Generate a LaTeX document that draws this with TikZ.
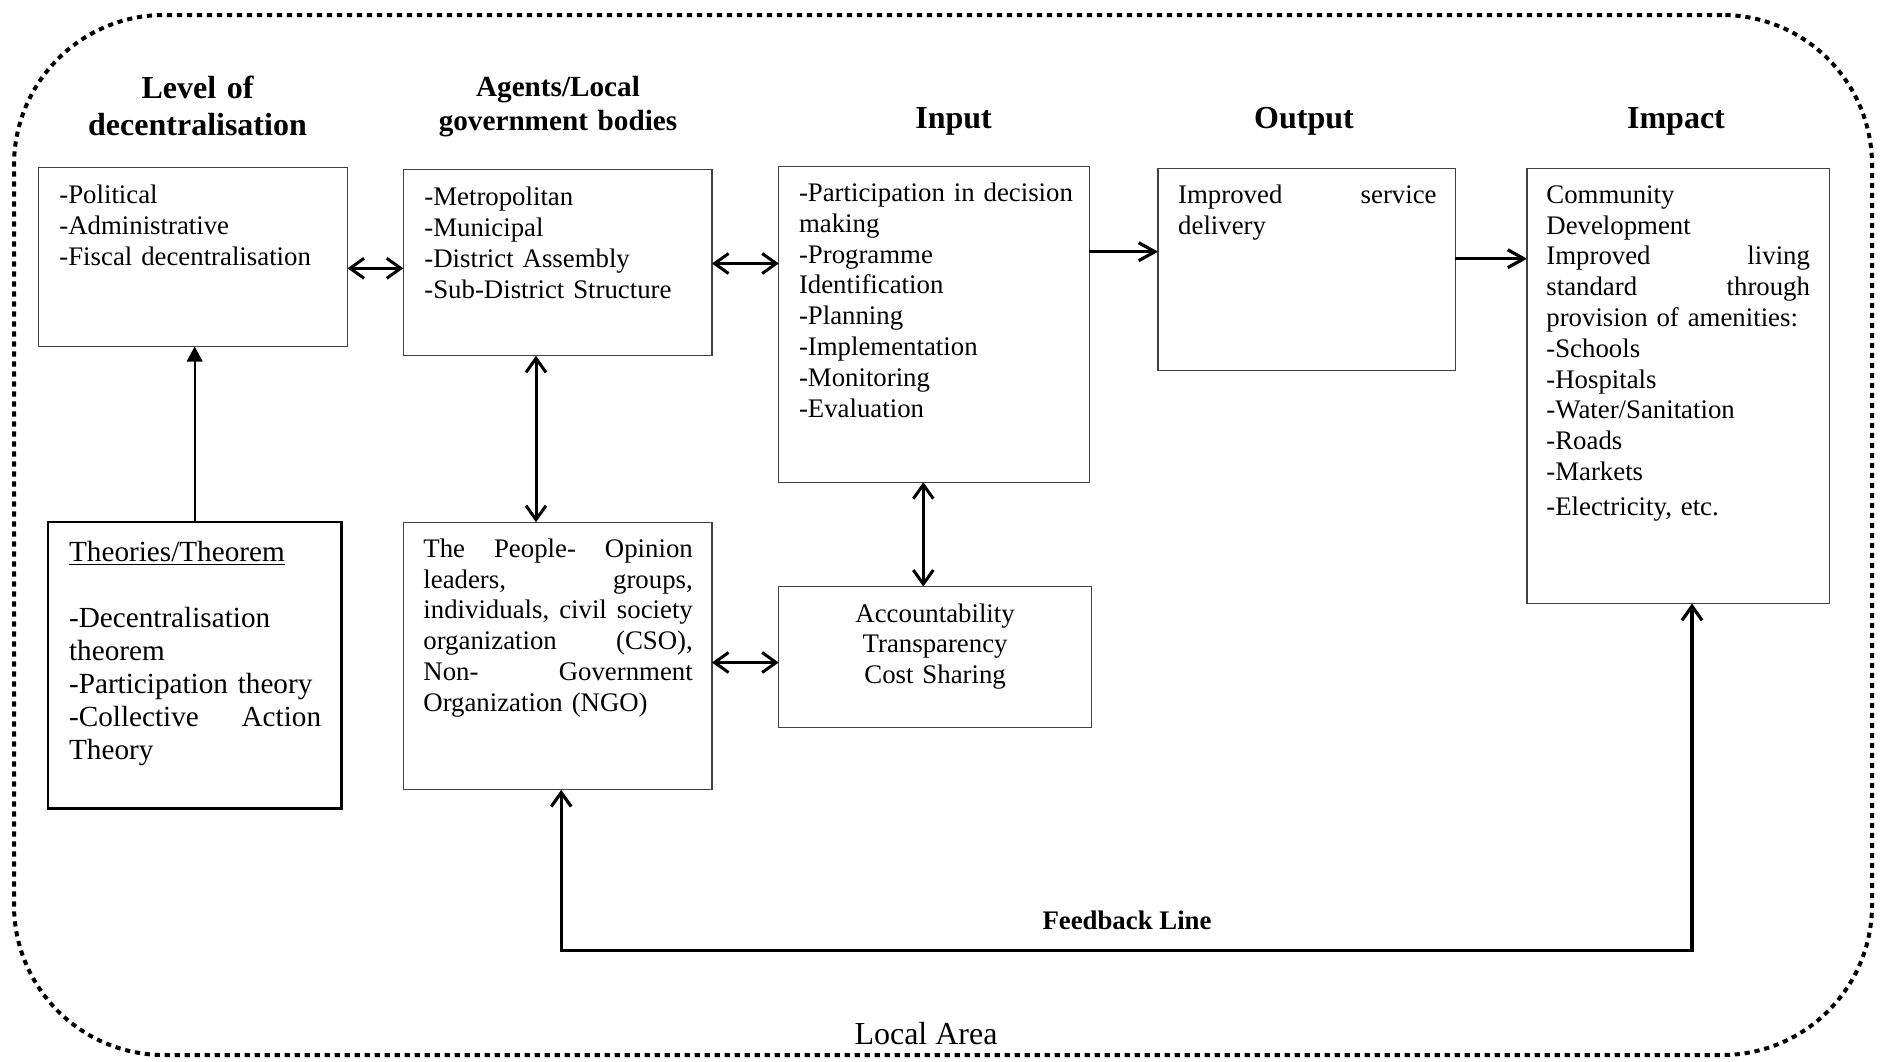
\documentclass[tikz,border=0pt]{standalone}
\usepackage{fontspec}
\setmainfont{Liberation Serif}
\usetikzlibrary{arrows.meta}
\begin{document}
\begin{tikzpicture}[x=0.5pt,y=-0.5pt,
  box/.style={draw=black!75, line width=0.6pt, anchor=north west, inner sep=0pt, outer sep=0pt},
  body/.style={anchor=north west, inner sep=0pt, align=left, font=\fontsize{13.4}{15.4}\selectfont},
  head/.style={inner sep=0pt, font=\fontsize{16}{18.5}\selectfont\bfseries},
  dbl/.style={{Straight Barb[length=7pt,width=10pt]}-{Straight Barb[length=7pt,width=10pt]}, line width=1.5pt},
  sgl/.style={-{Straight Barb[length=8pt,width=9pt]}, line width=1.6pt},
  tri/.style={-{Triangle[length=7.5pt,width=7.8pt]}, line width=1pt},
  area/.style={draw=black, line width=2pt, dash pattern=on 2.6pt off 2.4pt, rounded corners=75pt, inner sep=0pt, outer sep=0pt}
]
\useasboundingbox (0,0) rectangle (1888,1061);

% outer local area
\node[area, minimum width=929pt, minimum height=520pt] (localarea) at (943,535) {};

% boxes
\node[box, minimum width=154.35pt, minimum height=89.4pt] (lvl) at (38.8,167.7) {};
\node[box, minimum width=154.35pt, minimum height=93pt] (agt) at (403.3,169.8) {};
\node[box, minimum width=155.2pt, minimum height=158pt] (inp) at (778.8,166.1) {};
\node[box, minimum width=148.65pt, minimum height=101pt] (out) at (1158,168.4) {};
\node[box, minimum width=151.2pt, minimum height=217.55pt] (imp) at (1527,168.4) {};
\node[box, minimum width=156.4pt, minimum height=70.5pt] (acc) at (778.7,586.6) {};
\node[box, minimum width=154.3pt, minimum height=133.8pt] (ppl) at (403.4,522.2) {};
\node[box, draw=black, line width=1.2pt, minimum width=146.95pt, minimum height=143.1pt] (thy) at (47.7,522.2) {};

% headers
\node[head, align=center, text width=200pt, anchor=north] (hlvl) at (197.5,72.1) {\strut Level of\\decentralisation};
\node[head, font=\fontsize{14.6}{16.6}\selectfont\bfseries, align=center, text width=200pt, anchor=north] (hagt) at (558,73.3) {\strut Agents/Local\\government bodies};
\node[head, anchor=base] (hinp) at (953.6,128) {Input};
\node[head, anchor=base] (hout) at (1304,128) {Output};
\node[head, anchor=base] (himp) at (1676,128) {Impact};

% box texts
\node[body, text width=135pt] (lvlt) at (59,181.6) {\strut-Political\\-Administrative\\-Fiscal decentralisation};
\node[body, text width=135pt] (agtt) at (424,184) {\strut-Metropolitan\\-Municipal\\-District Assembly\\-Sub-District Structure};
\node[body, text width=137pt] (inpt) at (798.6,179.6) {\strut-Participation in decision\\making\\-Programme\\Identification\\-Planning\\-Implementation\\-Monitoring\\-Evaluation};
\node[body, text width=129.2pt] (outt) at (1177.8,181.4) {\strut Improved\hfill service\\delivery};
\node[body, text width=131.8pt] (impt) at (1546,181.4) {\strut Community\\Development\\Improved\hfill living\\standard\hfill through\\provision of amenities:\\-Schools\\-Hospitals\\-Water/Sanitation\\-Roads\\-Markets\\[2.2pt]-Electricity, etc.};
\node[body, anchor=north, align=center, text width=150pt] (acct) at (935.1,600.1) {\strut Accountability\\Transparency\\Cost Sharing};
\node[body, text width=134.7pt] (pplt) at (423,535.4) {\strut The\hfill People-\hfill Opinion\\leaders,\hfill groups,\\individuals,\hfill civil\hfill society\\organization\hfill (CSO),\\Non-\hfill Government\\Organization (NGO)};
\node[body, font=\fontsize{14.6}{16.5}\selectfont, text width=126pt] (thyt) at (68.7,537.7) {\strut\underline{Theories/Theorem}\\[16.5pt]-Decentralisation\\theorem\\-Participation theory\\-Collective\hfill Action\\Theory};

% connectors
\draw[tri] (thy.north) -- (thy.north |- lvl.south);
\draw[dbl] (lvl.east |- 0,268.3) -- (agt.west |- 0,268.3);
\draw[dbl] (agt.east |- 0,263.5) -- (inp.west |- 0,263.5);
\draw[dbl] (agt.south -| 536,0) -- (ppl.north -| 536,0);
\draw[dbl] (inp.south -| 923.3,0) -- (acc.north -| 923.3,0);
\draw[dbl] (ppl.east |- 0,662.5) -- (acc.west |- 0,662.5);
\draw[sgl] (inp.east |- 0,251.7) -- (out.west |- 0,251.7);
\draw[sgl] (out.east |- 0,258.7) -- (imp.west |- 0,258.7);
\coordinate (fb) at (561.2,950.8);
\draw[dbl, line width=1.6pt] (ppl.south -| fb) -- (fb) -| (imp.south -| 1692,0);

% labels
\node[font=\fontsize{13.4}{15}\selectfont\bfseries, anchor=base, inner sep=0pt] (fbl) at (1127,929.8) {Feedback Line};
\node[font=\fontsize{16}{18}\selectfont, anchor=base, inner sep=0pt] (loc) at (926,1044) {Local Area};
\end{tikzpicture}
\end{document}
